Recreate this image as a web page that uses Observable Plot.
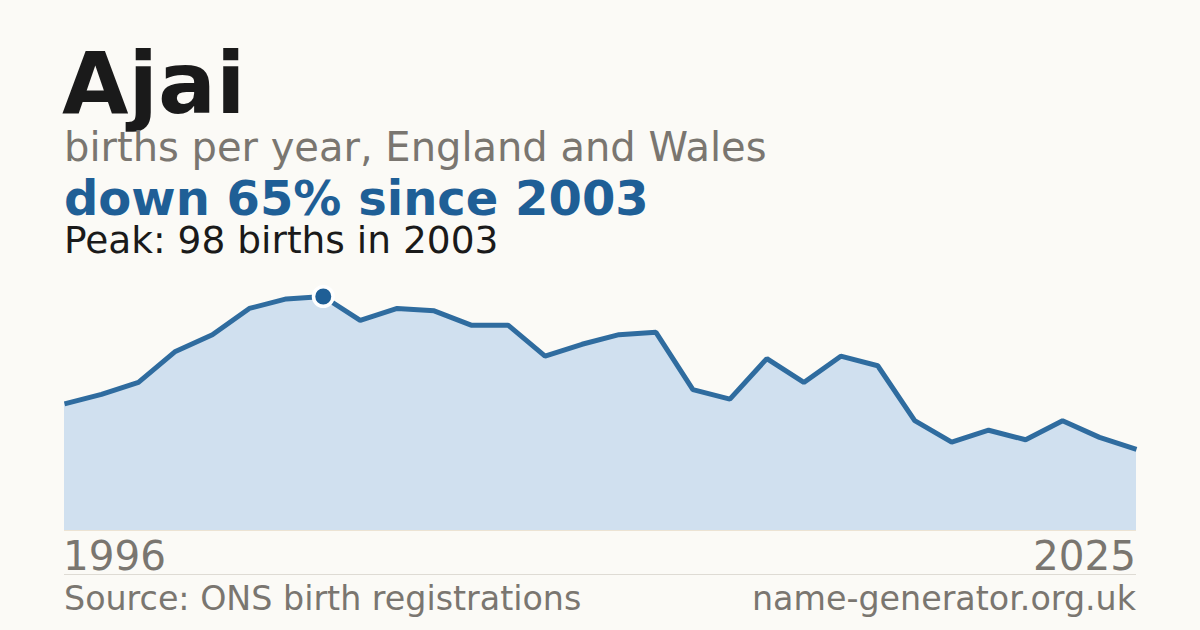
<!DOCTYPE html>
<html>
<head>
<meta charset="utf-8">
<script src="https://cdn.jsdelivr.net/npm/d3@7"></script>
<script src="https://cdn.jsdelivr.net/npm/@observablehq/plot@0.6"></script>
<style>
  html, body { margin: 0; padding: 0; }
  body { width: 1200px; height: 630px; background: #fbfaf6; position: relative; overflow: hidden;
         font-family: "DejaVu Sans", sans-serif; }
  .t { position: absolute; line-height: 1em; white-space: nowrap; }
  #chart { position: absolute; left: 0; top: 270px; }
  #rule { position: absolute; left: 64px; width: 1072px; top: 574px; height: 1px; background: #dedbd4; }
</style>
</head>
<body>
<div class="t" id="title" style="left:62px; top:40px; font-size:86px; font-weight:bold; color:#1a1a1a;"></div>
<div class="t" id="subtitle" style="left:64px; top:127px; font-size:40px; color:#7a7670;"></div>
<div class="t" id="headline" style="left:64px; top:177.4px; line-height:0.9em; font-size:48px; font-weight:bold; color:#1f5f96;"></div>
<div class="t" id="peak" style="left:64px; top:223.6px; line-height:0.9em; font-size:37.5px; color:#1a1a1a;"></div>
<div id="chart"></div>
<div class="t" id="yStart" style="left:63px; top:536px; font-size:40.5px; color:#7a7670;"></div>
<div class="t" id="yEnd" style="right:64px; top:536px; font-size:40.5px; color:#7a7670;"></div>
<div id="rule"></div>
<div class="t" id="source" style="left:64px; top:582px; font-size:33.3px; color:#7a7670;"></div>
<div class="t" id="site" style="right:64px; top:582px; font-size:33.3px; color:#7a7670;"></div>
<script>
const name = "Ajai";
const subtitle = "births per year, England and Wales";
const years = [1996,1997,1998,1999,2000,2001,2002,2003,2004,2005,2006,2007,2008,2009,2010,2011,2012,2013,2014,2015,2016,2017,2018,2019,2020,2021,2022,2023,2024,2025];
const births = [53,57,62,75,82,93,97,98,88,93,92,86,86,73,78,82,83,59,55,72,62,73,69,46,37,42,38,46,39,34];
const peakYear = 2003;
const peakValue = 98;
const headline = "down 65% since 2003";
const peakLabel = "Peak: 98 births in 2003";
const sourceText = "Source: ONS birth registrations";
const siteText = "name-generator.org.uk";

document.getElementById("title").textContent = name;
document.getElementById("subtitle").textContent = subtitle;
document.getElementById("headline").textContent = headline;
document.getElementById("peak").textContent = peakLabel;
document.getElementById("yStart").textContent = String(years[0]);
document.getElementById("yEnd").textContent = String(years[years.length - 1]);
document.getElementById("source").textContent = sourceText;
document.getElementById("site").textContent = siteText;

const data = years.map((y, i) => ({year: y, value: births[i]}));
const peak = [{year: peakYear, value: peakValue}];

const chart = Plot.plot({
  width: 1200,
  height: 260,
  marginLeft: 64,
  marginRight: 64,
  marginTop: 26,
  marginBottom: 0,
  style: {background: "transparent", overflow: "visible"},
  x: {domain: [years[0], years[years.length - 1]], axis: null},
  y: {domain: [0, peakValue], axis: null},
  marks: [
    Plot.areaY(data, {x: "year", y: "value", fill: "#d0e0ef"}),
    Plot.ruleY([0], {stroke: "#ece3d3", strokeWidth: 1}),
    Plot.lineY(data, {x: "year", y: "value", stroke: "#2f6c9f", strokeWidth: 5, strokeLinejoin: "miter", strokeLinecap: "butt"}),
    Plot.dot(peak, {x: "year", y: "value", r: 9.75, fill: "#1f5f96", stroke: "#ffffff", strokeWidth: 3.5})
  ]
});
document.getElementById("chart").appendChild(chart);
</script>
</body>
</html>
